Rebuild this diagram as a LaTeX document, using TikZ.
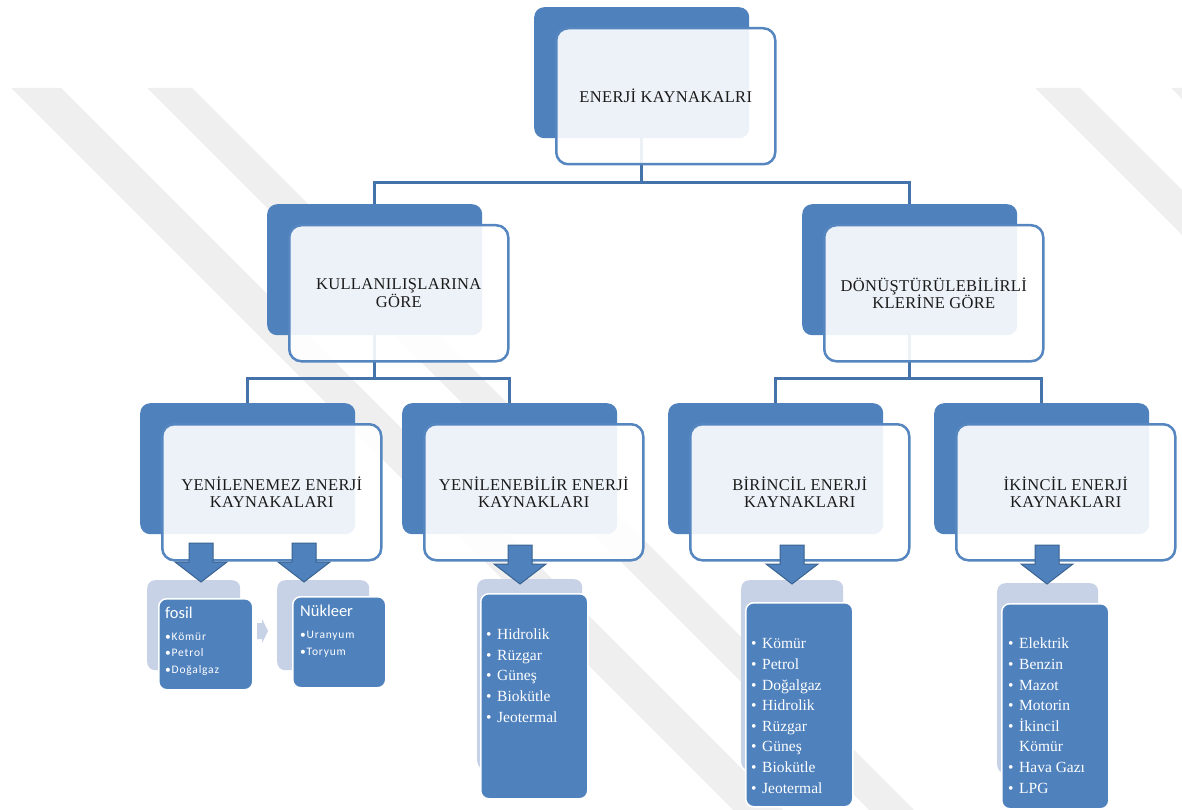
\documentclass[tikz,border=0pt]{standalone}
\usepackage{fontspec}
\setmainfont{Liberation Serif}
\newfontfamily\cardfont{Carlito}
\usetikzlibrary{backgrounds}
\definecolor{boxblue}{HTML}{4F81BD}
\definecolor{frontedge}{HTML}{5686C0}
\definecolor{lineblue}{HTML}{4472AA}
\definecolor{arrowedge}{HTML}{3A6391}
\definecolor{cardback}{HTML}{C8D2E6}
\definecolor{titletext}{HTML}{1A1A1A}
\definecolor{wmark}{HTML}{EFEFEF}
\newcommand{\titlefont}{\fontsize{16.5}{17.5}\selectfont\addfontfeature{LetterSpace=2}}
\newcommand{\itm}[1]{\makebox[11pt][l]{•}#1}
\begin{document}
\begin{tikzpicture}[x=1pt,y=-1pt,
backbox/.style={fill=boxblue, rounded corners=10pt, inner sep=0pt,
 minimum width=215pt, minimum height=131pt, anchor=north west},
frontbox/.style={draw=frontedge, line width=2.5pt, fill=white, fill opacity=0.9,
 text opacity=1, rounded corners=12pt, inner sep=0pt, minimum width=219pt,
 minimum height=136pt, anchor=north west, align=center, text=titletext, font=\titlefont},
conn/.style={draw=lineblue, line width=3pt},
cardb/.style={fill=cardback, rounded corners=8pt, inner sep=0pt, anchor=north west},
cardf/.style={fill=boxblue, draw=white, line width=1.5pt, rounded corners=8pt,
 inner sep=0pt, anchor=north west},
cardtitle/.style={text=white, font=\cardfont\fontsize{16.5}{18}\selectfont,
 inner sep=0pt, anchor=base west},
carditems/.style={text=white, align=left, inner sep=0pt, anchor=base west,
 font=\cardfont\fontsize{11.5}{16.5}\selectfont\addfontfeature{LetterSpace=7}},
listtext/.style={text=white, align=left, inner sep=0pt, anchor=base west,
 font=\fontsize{15.5}{20.6}\selectfont},
twobox/.pic={
 \node[backbox] (-back) at (0,0) {};
 \node[frontbox] (-front) at (21,20) {#1};},
downarr/.pic={
 \draw[fill=boxblue, draw=arrowedge, line width=1pt]
 (-12,0) -- (-12,19) -- (-26,19) -- (0,39) -- (26,19) -- (12,19) -- (12,0) -- cycle;},
band/.pic={
 \fill[wmark] (0,0) -- (#1,0) -- ++(722,722) -- ++(-#1,0) -- cycle;}
]
\useasboundingbox (0,0) rectangle (1182,810);

% filigran
\begin{scope}[on background layer]
\clip (0,0) rectangle (1182,810);
\path (11,88) pic {band=50} (147,88) pic {band=45};
\begin{scope}[xscale=-1, xshift=-1182pt]
\path (11,88) pic {band=50} (147,88) pic {band=45};
\end{scope}
\end{scope}

\path
 (534,7) pic (root) {twobox={ENERJİ KAYNAKALRI}}
 (267,204) pic (use) {twobox={KULLANILIŞLARINA\\GÖRE}}
 (802,204) pic (conv) {twobox={DÖNÜŞTÜRÜLEBİLİRLİ\\KLERİNE GÖRE}}
 (140,403) pic (nonren) {twobox={YENİLENEMEZ ENERJİ\\KAYNAKALARI}}
 (402,403) pic (ren) {twobox={YENİLENEBİLİR ENERJİ\\KAYNAKLARI}}
 (668,403) pic (prim) {twobox={BİRİNCİL ENERJİ\\KAYNAKLARI}}
 (934,403) pic (sec) {twobox={İKİNCİL ENERJİ\\KAYNAKLARI}};

\begin{scope}[on background layer]
\draw[conn] (root-back.south) -- ++(0,44) coordinate (j0);
\draw[conn] (j0) -| (use-back.north);
\draw[conn] (j0) -| (conv-back.north);
\draw[conn] (use-back.south) -- ++(0,43) coordinate (j1);
\draw[conn] (j1) -| (nonren-back.north);
\draw[conn] (j1) -| (ren-back.north);
\draw[conn] (conv-back.south) -- ++(0,43) coordinate (j2);
\draw[conn] (j2) -| (prim-back.north);
\draw[conn] (j2) -| (sec-back.north);
\end{scope}

% fosil / nukleer (anchor = last line)
\node[cardb, minimum width=93pt, minimum height=90pt] (fosilB) at (147,580) {};
\node[cardf, minimum width=94pt, minimum height=91pt] (fosilF) at (158,598) {};
\node[cardtitle] (fosilT) at (165,618) {fosil};
\node[carditems] (fosilL) at (165,673) {•Kömür\\•Petrol\\•Doğalgaz};
\node[cardb, minimum width=92pt, minimum height=90pt] (nukB) at (277,580) {};
\node[cardf, minimum width=93pt, minimum height=91pt] (nukF) at (292,596) {};
\node[cardtitle] (nukT) at (300,616) {Nükleer};
\node[carditems] (nukL) at (300,655) {•Uranyum\\•Toryum};
\fill[cardback] (257,623) -- (262,623) -- (262,619) -- (268,631) -- (262,643)
 -- (262,639) -- (257,639) -- cycle;

% listeler
\node[cardb, minimum width=105pt, minimum height=190pt] (renB) at (477,579) {};
\node[cardf, minimum width=107pt, minimum height=205pt] (renF) at (480,593) {};
\node[listtext] (renL) at (486,722) {\itm{Hidrolik}\\\itm{Rüzgar}\\\itm{Güneş}\\
 \itm{Biokütle}\\\itm{Jeotermal}};
\node[cardb, minimum width=102pt, minimum height=190pt] (primB) at (741,580) {};
\node[cardf, minimum width=107pt, minimum height=204pt] (primF) at (745,602) {};
\node[listtext] (primL) at (751,793) {\itm{Kömür}\\\itm{Petrol}\\\itm{Doğalgaz}\\
 \itm{Hidrolik}\\\itm{Rüzgar}\\\itm{Güneş}\\\itm{Biokütle}\\\itm{Jeotermal}};
\node[cardb, minimum width=101pt, minimum height=190pt] (secB) at (997,583) {};
\node[cardf, minimum width=107pt, minimum height=205pt] (secF) at (1001,603) {};
\node[listtext] (secL) at (1008,793) {\itm{Elektrik}\\\itm{Benzin}\\\itm{Mazot}\\
 \itm{Motorin}\\\itm{İkincil}\\\hspace*{11pt}Kömür\\\itm{Hava Gazı}\\\itm{LPG}};

\path
 (201,543) pic {downarr}
 (304,543) pic {downarr}
 (520,545) pic {downarr}
 (792,545) pic {downarr}
 (1047,545) pic {downarr};

\end{tikzpicture}
\end{document}
